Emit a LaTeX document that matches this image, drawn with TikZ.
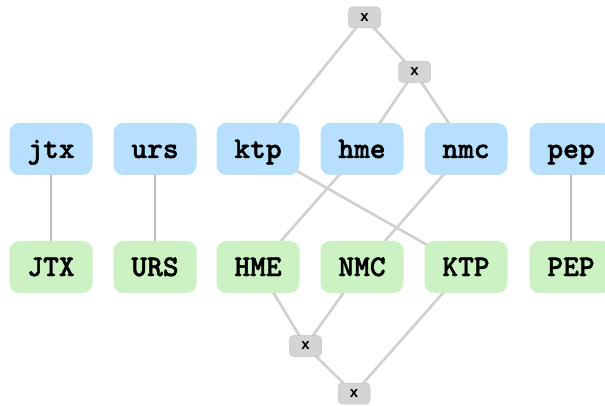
\documentclass[tikz,border=0pt]{standalone}
\usepackage{fontspec}
\newfontfamily\sansb{Liberation Sans}
\newfontfamily\monob{lmmonolt10-bold.otf}[FakeBold=1.6]
\begin{document}
\begin{tikzpicture}[x=1pt,y=-1pt,
  boxb/.style={draw=none,rounded corners=10pt,minimum width=83pt,minimum height=52pt,inner sep=0pt,text height=20pt,text depth=2pt,font=\monob\fontsize{30}{30}\selectfont},
  up/.style={boxb,fill={rgb,255:red,182;green,224;blue,254}},
  low/.style={boxb,fill={rgb,255:red,204;green,242;blue,196}},
  xn/.style={draw={rgb,255:red,195;green,195;blue,195},line width=0.5pt,fill={rgb,255:red,212;green,212;blue,212},rounded corners=4pt,minimum width=32pt,minimum height=21pt,inner sep=0pt,font=\sansb\bfseries\fontsize{15}{15}\selectfont},
  edge/.style={draw={rgb,255:red,208;green,208;blue,208},line width=2.6pt},
  vedge/.style={draw={rgb,255:red,190;green,190;blue,190},line width=2pt}]
\useasboundingbox (0,0) rectangle (605,406);
% edges first (behind nodes)
\coordinate (cjtx) at (51,149); \coordinate (cJTX) at (51,267);
\coordinate (curs) at (155,149); \coordinate (cURS) at (155,267);
\coordinate (cktp) at (258,149); \coordinate (cHME) at (258,267);
\coordinate (chme) at (362,149); \coordinate (cNMC) at (362,267);
\coordinate (cnmc) at (466,149); \coordinate (cKTP) at (466,267);
\coordinate (cpep) at (571,149); \coordinate (cPEP) at (571,267);
\coordinate (cxa) at (364.5,17.5); \coordinate (cxb) at (414.5,72);
\coordinate (cxc) at (305.5,346); \coordinate (cxd) at (354,393.5);
\draw[vedge] (cjtx) -- (cJTX);
\draw[vedge] (curs) -- (cURS);
\draw[vedge] (cpep) -- (cPEP);
\draw[edge] (cxa) -- (cktp);
\draw[edge] (cxa) -- (cxb);
\draw[edge] (cxb) -- (chme);
\draw[edge] (cxb) -- (cnmc);
\draw[edge] (cktp) -- (cKTP);
\draw[edge] (chme) -- (cHME);
\draw[edge] (cnmc) -- (cNMC);
\draw[edge] (cHME) -- (cxc);
\draw[edge] (cNMC) -- (cxc);
\draw[edge] (cxc) -- (cxd);
\draw[edge] (cKTP) -- (cxd);
% nodes
\node[up] (jtx) at (cjtx) {jtx};
\node[up] (urs) at (curs) {urs};
\node[up] (ktp) at (cktp) {ktp};
\node[up] (hme) at (chme) {hme};
\node[up] (nmc) at (cnmc) {nmc};
\node[up] (pep) at (cpep) {pep};
\node[low] (JTX) at (cJTX) {JTX};
\node[low] (URS) at (cURS) {URS};
\node[low] (HME) at (cHME) {HME};
\node[low] (NMC) at (cNMC) {NMC};
\node[low] (KTP) at (cKTP) {KTP};
\node[low] (PEP) at (cPEP) {PEP};
\node[xn] (xa) at (cxa) {x};
\node[xn] (xb) at (cxb) {x};
\node[xn] (xc) at (cxc) {x};
\node[xn] (xd) at (cxd) {x};
\end{tikzpicture}
\end{document}
